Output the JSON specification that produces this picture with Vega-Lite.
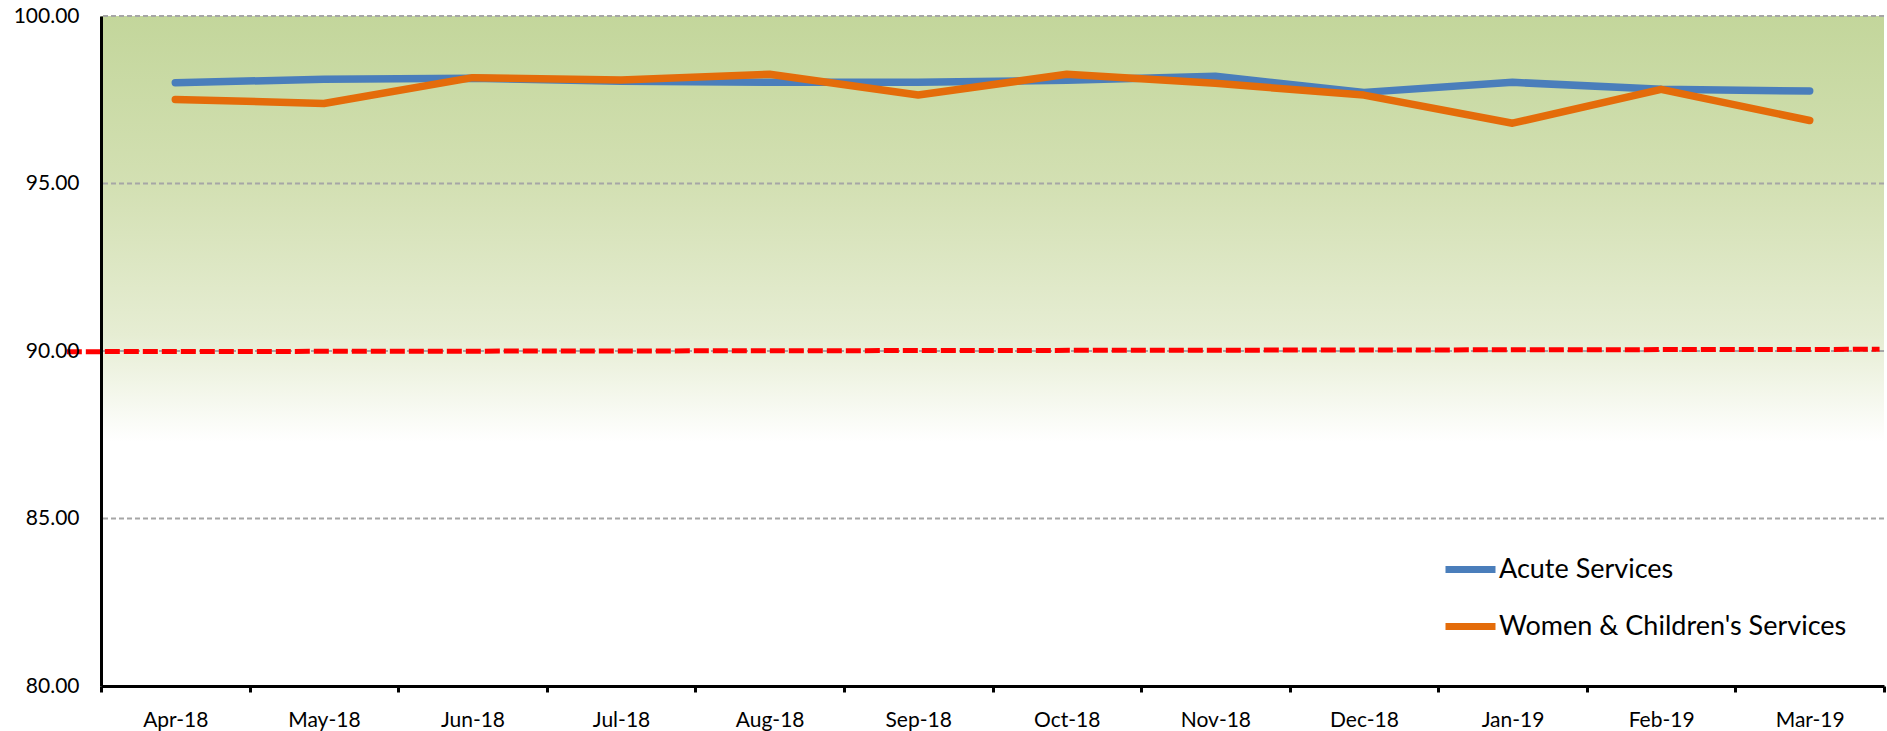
{
  "$schema": "https://vega.github.io/schema/vega-lite/v6.json",
  "width": 1783,
  "height": 670,
  "autosize": {"type": "none"},
  "padding": {"left": 101, "top": 16, "right": 3, "bottom": 45},
  "background": "white",
  "config": {
    "view": {"stroke": null},
    "font": "Lato",
    "axis": {"labelFont": "Lato", "labelColor": "#000000"},
    "legend": {"labelFont": "Lato"}
  },
  "datasets": {
    "band": [{"top": 100, "bottom": 87.3}],
    "grid": [{"v": 85}, {"v": 90}, {"v": 95}, {"v": 100}],
    "target": [{"pos": -0.23, "v": 89.98}, {"pos": 11.97, "v": 90.05}],
    "series": [
      {"month": "Apr-18", "series": "Acute Services", "value": 98.01},
      {"month": "May-18", "series": "Acute Services", "value": 98.11},
      {"month": "Jun-18", "series": "Acute Services", "value": 98.14},
      {"month": "Jul-18", "series": "Acute Services", "value": 98.05},
      {"month": "Aug-18", "series": "Acute Services", "value": 98.02},
      {"month": "Sep-18", "series": "Acute Services", "value": 98.02},
      {"month": "Oct-18", "series": "Acute Services", "value": 98.08},
      {"month": "Nov-18", "series": "Acute Services", "value": 98.2},
      {"month": "Dec-18", "series": "Acute Services", "value": 97.72},
      {"month": "Jan-19", "series": "Acute Services", "value": 98.02},
      {"month": "Feb-19", "series": "Acute Services", "value": 97.81},
      {"month": "Mar-19", "series": "Acute Services", "value": 97.76},
      {"month": "Apr-18", "series": "Women & Children's Services", "value": 97.51},
      {"month": "May-18", "series": "Women & Children's Services", "value": 97.39},
      {"month": "Jun-18", "series": "Women & Children's Services", "value": 98.16},
      {"month": "Jul-18", "series": "Women & Children's Services", "value": 98.09},
      {"month": "Aug-18", "series": "Women & Children's Services", "value": 98.26},
      {"month": "Sep-18", "series": "Women & Children's Services", "value": 97.64},
      {"month": "Oct-18", "series": "Women & Children's Services", "value": 98.26},
      {"month": "Nov-18", "series": "Women & Children's Services", "value": 97.99},
      {"month": "Dec-18", "series": "Women & Children's Services", "value": 97.64},
      {"month": "Jan-19", "series": "Women & Children's Services", "value": 96.8},
      {"month": "Feb-19", "series": "Women & Children's Services", "value": 97.81},
      {"month": "Mar-19", "series": "Women & Children's Services", "value": 96.88}
    ]
  },
  "layer": [
    {
      "data": {"name": "band"},
      "mark": {
        "type": "rect",
        "color": {
          "gradient": "linear", "x1": 0, "y1": 0, "x2": 0, "y2": 1,
          "stops": [
            {"offset": 0, "color": "#C3D69B"},
            {"offset": 0.4, "color": "#D3E0B3"},
            {"offset": 0.75, "color": "#E6EDD3"},
            {"offset": 1, "color": "#FFFFFF"}
          ]
        }
      },
      "encoding": {
        "y": {
          "field": "top", "type": "quantitative",
          "scale": {"domain": [80, 100], "nice": false, "zero": false},
          "axis": {
            "title": null, "values": [80, 85, 90, 95, 100], "format": ".2f",
            "labelFontSize": 21, "labelPadding": 22, "ticks": false,
            "domainColor": "#000000", "domainWidth": 3, "grid": false, "zindex": 1
          }
        },
        "y2": {"field": "bottom"}
      }
    },
    {
      "data": {"name": "grid"},
      "mark": {"type": "rule", "color": "#A6A6A6", "strokeWidth": 2, "strokeDash": [5, 3]},
      "encoding": {
        "y": {"field": "v", "type": "quantitative"}
      }
    },
    {
      "data": {"name": "target"},
      "mark": {"type": "line", "color": "#FF0000", "strokeWidth": 5, "strokeDash": [15, 4]},
      "encoding": {
        "x": {"field": "pos", "type": "quantitative", "scale": {"domain": [0, 12], "nice": false, "zero": false}, "axis": null},
        "y": {"field": "v", "type": "quantitative"}
      }
    },
    {
      "data": {"name": "series"},
      "mark": {"type": "line", "strokeWidth": 7.5, "strokeCap": "round", "strokeJoin": "round"},
      "encoding": {
        "x": {
          "field": "month", "type": "nominal", "sort": null,
          "scale": {"type": "band", "paddingInner": 0, "paddingOuter": 0},
          "axis": {
            "title": null, "labelAngle": 0, "labelFontSize": 21, "labelPadding": 17,
            "domainColor": "#000000", "domainWidth": 3,
            "tickColor": "#000000", "tickWidth": 3, "tickSize": 6, "tickBand": "extent",
            "grid": false, "zindex": 1
          }
        },
        "y": {"field": "value", "type": "quantitative"},
        "color": {
          "field": "series", "type": "nominal",
          "scale": {"domain": ["Acute Services", "Women & Children's Services"], "range": ["#4A7EBB", "#E46C0A"]},
          "legend": {
            "title": null, "orient": "none", "legendX": 1341, "legendY": 525,
            "labelFontSize": 27, "labelColor": "#000000", "labelOffset": 0, "labelLimit": 0,
            "symbolType": "stroke", "symbolSize": 2500, "symbolStrokeWidth": 7,
            "rowPadding": 14
          }
        }
      }
    }
  ],
  "resolve": {"scale": {"x": "independent"}}
}
